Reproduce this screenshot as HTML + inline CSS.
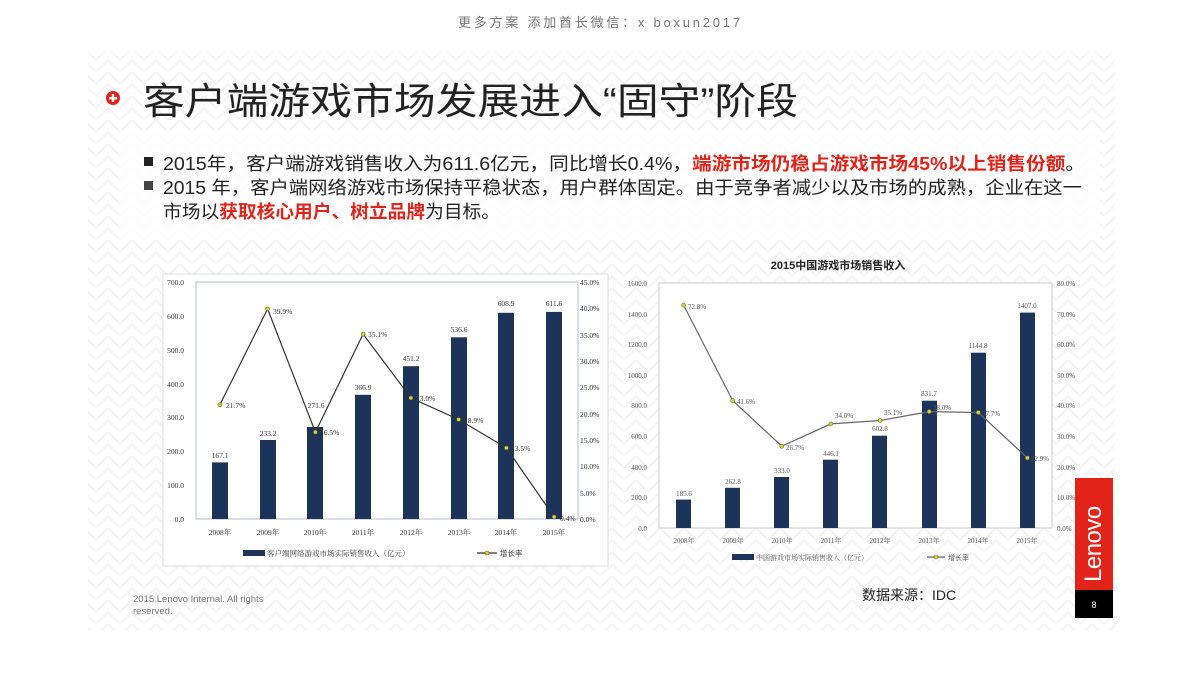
<!DOCTYPE html>
<html><head><meta charset="utf-8"><style>
html,body{margin:0;padding:0;background:#fff;}
svg{display:block;}
</style></head><body>
<svg width="1200" height="675" viewBox="0 0 1200 675" xmlns="http://www.w3.org/2000/svg" font-family="'Liberation Sans','Noto Sans CJK SC',sans-serif">
<defs>
<pattern id="pt" width="24" height="24" patternUnits="userSpaceOnUse">
<path d="M0 12 L12 0 L24 12 M0 24 L12 12 L24 24" fill="none" stroke="#f3f3f3" stroke-width="2"/>
</pattern>
</defs>
<rect width="1200" height="675" fill="#fff"/>
<rect x="88" y="52" width="1027" height="578" fill="url(#pt)"/>
<rect x="120" y="130" width="980" height="110" fill="#fff" opacity="0.75"/>
<text x="458" y="27" textLength="282" lengthAdjust="spacing" font-size="13" fill="#777">更多方案 添加酋长微信：x boxun2017</text>

<circle cx="113" cy="98" r="7" fill="#e2231a"/>
<rect x="109" y="97" width="8" height="2.4" fill="#fff"/><rect x="111.8" y="94" width="2.4" height="8" fill="#fff"/>
<text x="143" y="114" font-size="37" fill="#222" textLength="655" lengthAdjust="spacingAndGlyphs">客户端游戏市场发展进入“固守”阶段</text>

<rect x="144" y="157" width="9" height="9" fill="#222"/>
<text x="163" y="170" font-size="18" fill="#222" textLength="922" lengthAdjust="spacingAndGlyphs">2015年，客户端游戏销售收入为611.6亿元，同比增长0.4%，<tspan fill="#e2231a" font-weight="bold">端游市场仍稳占游戏市场45%以上销售份额</tspan>。</text>
<rect x="144" y="181" width="9" height="9" fill="#444"/>
<text x="163" y="194" font-size="18" fill="#222" textLength="919" lengthAdjust="spacingAndGlyphs">2015 年，客户端网络游戏市场保持平稳状态，用户群体固定。由于竞争者减少以及市场的成熟，企业在这一</text>
<text x="163" y="218" font-size="18" fill="#222" textLength="337" lengthAdjust="spacingAndGlyphs">市场以<tspan fill="#e2231a" font-weight="bold">获取核心用户、树立品牌</tspan>为目标。</text>

<!-- Chart 1 -->
<rect x="163" y="274" width="445" height="292" fill="#fff" stroke="#ddd"/>
<rect x="196" y="282" width="382" height="237" fill="#fff" stroke="#b8bccc"/>
<g font-family="'Liberation Serif',serif" font-size="7.5" fill="#333" text-anchor="end">
<text x="184" y="522">0.0</text><text x="184" y="488">100.0</text><text x="184" y="454">200.0</text><text x="184" y="420">300.0</text><text x="184" y="387">400.0</text><text x="184" y="353">500.0</text><text x="184" y="319">600.0</text><text x="184" y="285">700.0</text>
</g>
<g font-family="'Liberation Serif',serif" font-size="7.5" fill="#333" text-anchor="start">
<text x="580" y="522">0.0%</text><text x="580" y="496">5.0%</text><text x="580" y="469">10.0%</text><text x="580" y="443">15.0%</text><text x="580" y="417">20.0%</text><text x="580" y="390">25.0%</text><text x="580" y="364">30.0%</text><text x="580" y="338">35.0%</text><text x="580" y="311">40.0%</text><text x="580" y="285">45.0%</text>
</g>
<g fill="#1c3459">
<rect x="212" y="462.4" width="16" height="56.6"/><rect x="260" y="440" width="16" height="79"/><rect x="307" y="427" width="16" height="92"/><rect x="355" y="394.8" width="16" height="124.2"/><rect x="403" y="366.2" width="16" height="152.8"/><rect x="451" y="337.3" width="16" height="181.7"/><rect x="498" y="312.8" width="16" height="206.2"/><rect x="546" y="311.9" width="16" height="207.1"/>
</g>
<polyline points="219.9,404.7 267.6,308.9 315.4,432.1 363.1,334.1 410.9,397.9 458.6,419.5 506.4,447.9 554.1,516.9" fill="none" stroke="#333" stroke-width="1.2"/>
<g fill="#d8d820" stroke="#555" stroke-width="0.6">
<circle cx="219.9" cy="404.7" r="2"/><circle cx="267.6" cy="308.9" r="2"/><circle cx="315.4" cy="432.1" r="2"/><circle cx="363.1" cy="334.1" r="2"/><circle cx="410.9" cy="397.9" r="2"/><circle cx="458.6" cy="419.5" r="2"/><circle cx="506.4" cy="447.9" r="2"/><circle cx="554.1" cy="516.9" r="2"/>
</g>
<g font-family="'Liberation Serif',serif" font-size="7.5" fill="#333" text-anchor="middle">
<text x="220" y="458">167.1</text><text x="268" y="436">233.2</text><text x="316" y="408">271.6</text><text x="363" y="390">366.9</text><text x="411" y="361">451.2</text><text x="459" y="332">536.6</text><text x="506" y="306">608.9</text><text x="554" y="306">611.6</text>
</g>
<g font-family="'Liberation Serif',serif" font-size="7.5" fill="#333">
<text x="226" y="408">21.7%</text><text x="273" y="314">39.9%</text><text x="320" y="435">16.5%</text><text x="368" y="337">35.1%</text><text x="416" y="401">23.0%</text><text x="464" y="423">18.9%</text><text x="511" y="451">13.5%</text><text x="560" y="521">0.4%</text>
</g>
<g font-family="'Liberation Serif','Noto Serif CJK SC',serif" font-size="7.5" fill="#333" text-anchor="middle">
<text x="220" y="535">2008年</text><text x="268" y="535">2009年</text><text x="315" y="535">2010年</text><text x="363" y="535">2011年</text><text x="411" y="535">2012年</text><text x="459" y="535">2013年</text><text x="506" y="535">2014年</text><text x="554" y="535">2015年</text>
</g>
<rect x="243" y="550" width="22" height="6" fill="#1c3459"/>
<text x="267" y="556" font-size="7.5" fill="#333" font-family="'Liberation Serif','Noto Serif CJK SC',serif">客户端网络游戏市场实际销售收入（亿元）</text>
<line x1="477" y1="553" x2="497" y2="553" stroke="#333" stroke-width="1.2"/><circle cx="487" cy="553" r="2" fill="#d8d820" stroke="#555" stroke-width="0.6"/>
<text x="500" y="556" font-size="7.5" fill="#333">增长率</text>

<!-- Chart 2 -->
<text x="838" y="269" text-anchor="middle" font-size="11" font-weight="bold" fill="#222">2015中国游戏市场销售收入</text>
<rect x="659" y="283" width="393" height="245" fill="#fff" stroke="#ccc"/>
<g font-family="'Liberation Serif',serif" font-size="7" fill="#555" text-anchor="end">
<text x="647" y="531">0.0</text><text x="647" y="500">200.0</text><text x="647" y="470">400.0</text><text x="647" y="439">600.0</text><text x="647" y="408">800.0</text><text x="647" y="378">1000.0</text><text x="647" y="347">1200.0</text><text x="647" y="317">1400.0</text><text x="647" y="286">1600.0</text>
</g>
<g font-family="'Liberation Serif',serif" font-size="7" fill="#555" text-anchor="start">
<text x="1057" y="531">0.0%</text><text x="1057" y="500">10.0%</text><text x="1057" y="470">20.0%</text><text x="1057" y="439">30.0%</text><text x="1057" y="408">40.0%</text><text x="1057" y="378">50.0%</text><text x="1057" y="347">60.0%</text><text x="1057" y="317">70.0%</text><text x="1057" y="286">80.0%</text>
</g>
<g fill="#1c3459">
<rect x="676" y="499.6" width="15" height="28.4"/><rect x="725" y="487.8" width="15" height="40.2"/><rect x="774" y="477" width="15" height="51"/><rect x="823" y="459.7" width="15" height="68.3"/><rect x="872" y="435.7" width="15" height="92.3"/><rect x="922" y="400.7" width="15" height="127.3"/><rect x="971" y="352.7" width="15" height="175.3"/><rect x="1020" y="312.6" width="15" height="215.4"/>
</g>
<polyline points="683.6,305.1 732.7,400.6 781.8,446.2 830.9,423.9 880.1,420.5 929.2,411.6 978.3,412.5 1027.4,457.9" fill="none" stroke="#666" stroke-width="1.2"/>
<g fill="#d8d820" stroke="#666" stroke-width="0.6">
<circle cx="683.6" cy="305.1" r="2"/><circle cx="732.7" cy="400.6" r="2"/><circle cx="781.8" cy="446.2" r="2"/><circle cx="830.9" cy="423.9" r="2"/><circle cx="880.1" cy="420.5" r="2"/><circle cx="929.2" cy="411.6" r="2"/><circle cx="978.3" cy="412.5" r="2"/><circle cx="1027.4" cy="457.9" r="2"/>
</g>
<g font-family="'Liberation Serif',serif" font-size="7" fill="#555" text-anchor="middle">
<text x="684" y="496">185.6</text><text x="733" y="484">262.8</text><text x="782" y="473">333.0</text><text x="831" y="456">446.1</text><text x="880" y="431">602.8</text><text x="929" y="396">831.7</text><text x="978" y="348">1144.8</text><text x="1027" y="308">1407.0</text>
</g>
<g font-family="'Liberation Serif',serif" font-size="7" fill="#555">
<text x="688" y="309">72.8%</text><text x="737" y="404">41.6%</text><text x="786" y="450">26.7%</text><text x="835" y="418">34.0%</text><text x="884" y="415">35.1%</text><text x="933" y="410">38.0%</text><text x="982" y="416">37.7%</text><text x="1031" y="461">22.9%</text>
</g>
<g font-family="'Liberation Serif','Noto Serif CJK SC',serif" font-size="7" fill="#555" text-anchor="middle">
<text x="684" y="543">2008年</text><text x="733" y="543">2009年</text><text x="782" y="543">2010年</text><text x="831" y="543">2011年</text><text x="880" y="543">2012年</text><text x="929" y="543">2013年</text><text x="978" y="543">2014年</text><text x="1027" y="543">2015年</text>
</g>
<rect x="732" y="554" width="22" height="6" fill="#1c3459"/>
<text x="756" y="560" font-size="7" fill="#555" font-family="'Liberation Serif','Noto Serif CJK SC',serif">中国游戏市场实际销售收入（亿元）</text>
<line x1="927" y1="557" x2="945" y2="557" stroke="#666" stroke-width="1.2"/><circle cx="936" cy="557" r="2" fill="#d8d820" stroke="#666" stroke-width="0.6"/>
<text x="948" y="560" font-size="7" fill="#555">增长率</text>

<!-- Footer -->
<text x="133" y="602" font-size="9.5" fill="#777">2015 Lenovo Internal. All rights</text>
<text x="133" y="614" font-size="9.5" fill="#777">reserved.</text>
<text x="862" y="600" font-size="14" fill="#222">数据来源：IDC</text>
<rect x="1075" y="478" width="38" height="112" fill="#e2231a"/>
<text transform="translate(1101,582) rotate(-90)" font-size="24" fill="#fff" letter-spacing="-0.5">Lenovo</text>
<rect x="1075" y="590" width="38" height="28" fill="#000"/>
<text x="1094" y="608" text-anchor="middle" font-size="9" fill="#fff">8</text>
</svg>
</body></html>
